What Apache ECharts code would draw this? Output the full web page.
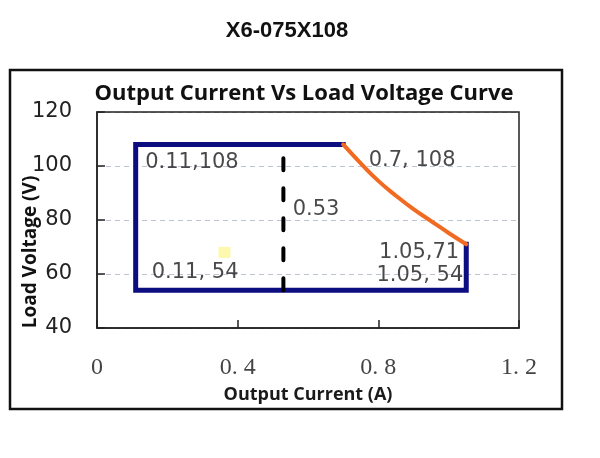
<!DOCTYPE html>
<html>
<head>
<meta charset="utf-8">
<script src="https://cdn.jsdelivr.net/npm/echarts@6/dist/echarts.min.js"></script>
<style>html,body{margin:0;padding:0;background:#fff}#c{width:600px;height:458px}</style>
</head>
<body>
<div id="c"></div>
<script>
// ---- data ----
var chartTitle = 'X6-075X108';
var plotTitle = 'Output Current Vs Load Voltage Curve';
var xName = 'Output Current (A)';
var yName = 'Load Voltage (V)';
var xTicks = [0, 0.4, 0.8, 1.2];
var xTickLabels = ['0', '0. 4', '0. 8', '1. 2'];
var yTicks = [40, 60, 80, 100, 120];
var boundary = [[0.7, 108], [0.11, 108], [0.11, 54], [1.05, 54], [1.05, 71]];
var powerCurve = [[0.7, 108], [0.75, 101], [0.8, 94.5], [0.85, 89], [0.9, 84], [0.95, 79.6], [1.0, 75.2], [1.05, 71]];
var divider = [[0.53, 54], [0.53, 103]];
var marker = [[0.3625, 68]];
var annotations = [
  [0.27, 101.1, '0.11,108'],
  [0.279, 60.4, '0.11, 54'],
  [0.623, 83.7, '0.53'],
  [0.896, 102.2, '0.7, 108'],
  [0.916, 68.1, '1.05,71'],
  [0.918, 59.6, '1.05, 54']
];

var G = {left: 97, right: 81, top: 112, bottom: 130};
var chart = echarts.init(document.getElementById('c'), null, {renderer: 'canvas'});
var option = {
  animation: false,
  backgroundColor: '#fff',
  grid: {left: G.left, right: G.right, top: G.top, bottom: G.bottom},
  xAxis: {
    type: 'value', min: xTicks[0], max: xTicks[xTicks.length - 1], interval: 0.4,
    name: xName, nameLocation: 'middle', nameGap: 58,
    nameTextStyle: {fontFamily: 'Open Sans', fontWeight: 'bold', fontSize: 18, color: '#1a1a1a'},
    axisLine: {show: true, lineStyle: {color: '#222', width: 1.5}},
    axisTick: {show: true, inside: true, length: 8, lineStyle: {color: '#222', width: 1.5}},
    splitLine: {show: false},
    axisLabel: {
      margin: 28, fontFamily: 'Liberation Serif', fontSize: 24, color: '#444',
      formatter: function (v) { var i = xTicks.indexOf(Math.round(v * 10) / 10); return i >= 0 ? xTickLabels[i] : ''; }
    }
  },
  yAxis: {
    type: 'value', min: yTicks[0], max: yTicks[yTicks.length - 1], interval: 20,
    axisLine: {show: true, lineStyle: {color: '#222', width: 1.5}},
    axisTick: {show: true, inside: true, length: 8, lineStyle: {color: '#222', width: 1.5}},
    splitLine: {show: true, lineStyle: {color: '#bcc3d3', type: [5, 4], width: 1.2}},
    axisLabel: {margin: 25, fontFamily: 'DejaVu Sans', fontSize: 21, color: '#222'}
  },
  graphic: [
    {type: 'rect', shape: {x: 10, y: 70, width: 552, height: 339}, style: {fill: 'none', stroke: '#111', lineWidth: 2.5}, z: 0},
    {type: 'rect', shape: {x: G.left, y: G.top, width: 600 - G.left - G.right, height: 458 - G.top - G.bottom}, style: {fill: 'none', stroke: '#222', lineWidth: 1.5}, z: 10},
    {type: 'text', x: 287, y: 31, style: {text: chartTitle, font: 'bold 22px "Liberation Sans"', fill: '#111', textAlign: 'center', textVerticalAlign: 'middle'}},
    {type: 'text', x: 304, y: 94, style: {text: plotTitle, font: 'bold 22px "Open Sans"', fill: '#111', textAlign: 'center', textVerticalAlign: 'middle'}},
    {type: 'text', x: 31, y: 252, rotation: Math.PI / 2, style: {text: yName, font: 'bold 19px "Open Sans"', fill: '#111', textAlign: 'center', textVerticalAlign: 'middle'}}
  ],
  series: [
    {type: 'line', data: boundary, symbol: 'none', lineStyle: {color: '#0d0d82', width: 5, cap: 'square', join: 'miter'}, z: 3},
    {type: 'line', data: powerCurve, smooth: true, symbol: 'none', lineStyle: {color: '#f26a21', width: 4, cap: 'round'}, z: 3},
    {type: 'line', data: divider, symbol: 'none', lineStyle: {color: '#000', width: 4, type: [12, 18], cap: 'round'}, z: 4},
    {type: 'scatter', data: marker, symbol: 'rect', symbolSize: [12, 11], itemStyle: {color: '#fbf79a'}, z: 2},
    {type: 'scatter', data: annotations, symbolSize: 0, z: 5,
      label: {show: true, position: 'inside', formatter: function (p) { return p.data[2]; },
        fontFamily: 'DejaVu Sans', fontSize: 21, color: '#1a1a1a'}}
  ]
};
chart.setOption(option);
</script>
</body>
</html>
